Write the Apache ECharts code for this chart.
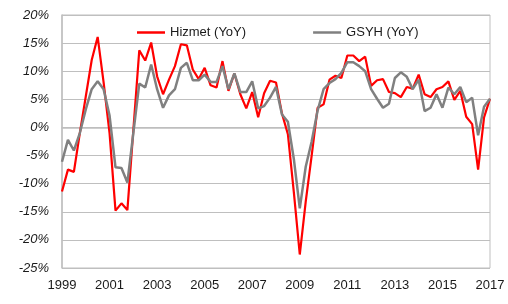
<!DOCTYPE html>
<html>
<head>
<meta charset="utf-8">
<script src="https://cdn.jsdelivr.net/npm/echarts@6/dist/echarts.min.js"></script>
<style>
html,body{margin:0;padding:0;background:#fff;}
#chart{width:508px;height:304px;}
</style>
</head>
<body>
<div id="chart"></div>
<script>
// Quarterly data, 1999Q1 .. 2017Q1
const firstYear = 1999;
const lastYear = 2017;
const seriesNames = ['Hizmet (YoY)', 'GSYH (YoY)'];
const hizmet = [
  -11.4, -7.5, -7.9, -1.0, 5.5, 12.0, 16.1, 8.0, -1.0,
  -14.8, -13.5, -14.7, -0.5, 13.7, 11.9, 15.1, 9.1, 5.9, 8.5, 10.9,
  14.8, 14.6, 10.3, 8.6, 10.6, 7.5, 7.1, 11.8, 6.5, 9.6, 5.9, 3.4,
  6.3, 1.8, 6.1, 8.3, 8.0, 2.5, -1.2, -11.5, -22.6, -13.2, -5.0, 3.5,
  4.1, 8.5, 9.2, 8.8, 12.8, 12.8, 11.8, 12.6, 7.4, 8.4, 8.6, 6.3,
  6.1, 5.4, 7.2, 6.9, 9.4, 5.9, 5.4, 6.8, 7.2, 8.2, 4.9, 6.5,
  1.9, 0.6, -7.5, 1.8, 5.1
];
const gsyh = [
  -6.1, -2.2, -4.1, -1.0, 3.2, 6.8, 8.2, 6.8, 2.1,
  -7.1, -7.2, -9.8, -1.0, 7.8, 7.1, 11.2, 6.8, 3.5, 5.7, 6.8,
  10.6, 11.5, 8.4, 8.4, 9.4, 8.1, 8.1, 10.9, 6.8, 9.6, 6.3, 6.3,
  8.2, 3.4, 3.8, 5.3, 7.2, 2.3, 1.0, -5.6, -14.4, -7.0, -2.5, 3.0,
  6.8, 7.9, 8.6, 9.7, 11.6, 11.6, 10.9, 10.0, 6.8, 5.1, 3.5, 4.2,
  8.8, 9.8, 9.0, 6.8, 8.5, 2.9, 3.5, 5.9, 3.5, 7.1, 5.9, 7.2,
  4.5, 5.3, -1.4, 3.7, 5.1
];
const yTicks = { min: -25, max: 20, interval: 5 };

// category labels (quarters)
const categories = [];
for (let y = firstYear; y <= lastYear; y++) {
  for (let q = 1; q <= 4; q++) {
    if (categories.length < hizmet.length) categories.push(y + 'Q' + q);
  }
}

const chart = echarts.init(document.getElementById('chart'), null, { renderer: 'canvas' });
const font = 'Liberation Sans, Arial, sans-serif';
chart.setOption({
  animation: false,
  backgroundColor: '#ffffff',
  grid: {
    left: 62, right: 18, top: 15, bottom: 36,
    show: true, borderColor: '#bfbfbf', borderWidth: 1
  },
  legend: {
    left: 132, top: 21,
    itemWidth: 28, itemHeight: 2.5, itemGap: 67,
    icon: 'rect',
    textStyle: { fontFamily: font, fontSize: 13, color: '#1a1a1a' },
    data: seriesNames
  },
  xAxis: {
    type: 'category',
    data: categories,
    boundaryGap: false,
    axisLine: { show: true, lineStyle: { color: '#bfbfbf', width: 1.5 } },
    axisTick: { show: false },
    splitLine: { show: false },
    axisLabel: {
      interval: 7,
      margin: 11,
      fontFamily: font, fontSize: 13, color: '#1a1a1a',
      formatter: v => v.slice(0, 4)
    }
  },
  yAxis: {
    type: 'value',
    min: yTicks.min, max: yTicks.max, interval: yTicks.interval,
    axisLine: { show: true, lineStyle: { color: '#bfbfbf', width: 1.5 } },
    axisTick: { show: false },
    splitLine: { show: true, lineStyle: { color: '#bfbfbf', width: 1 } },
    axisLabel: {
      margin: 13,
      fontFamily: font, fontSize: 13, fontStyle: 'italic', color: '#1a1a1a',
      formatter: '{value}%'
    }
  },
  series: [
    {
      name: seriesNames[0], type: 'line', data: hizmet,
      symbol: 'none', color: '#ff0000',
      lineStyle: { color: '#ff0000', width: 2.2 }, z: 2
    },
    {
      name: seriesNames[1], type: 'line', data: gsyh,
      symbol: 'none', color: '#808080',
      lineStyle: { color: '#808080', width: 2.5 }, z: 3
    }
  ]
});
</script>
</body>
</html>
